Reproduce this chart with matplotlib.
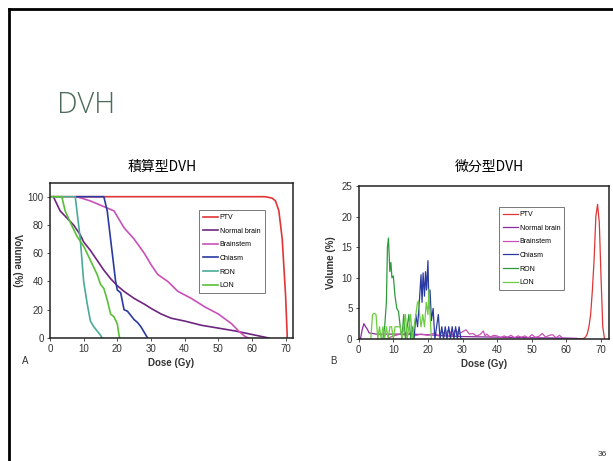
import matplotlib.pyplot as plt
from matplotlib.lines import Line2D

# cumulative DVH (left)
names = ["PTV", "Normal brain", "Brainstem", "Chiasm", "RON", "LON"]
cum_ptv_x = [0, 64, 66, 67, 68, 69, 70, 70.5]
cum_ptv_y = [100, 100, 99, 97, 90, 70, 30, 0]
cum_nb_x = [1, 2, 3, 5, 7, 9, 10, 12, 14, 16, 18, 20, 22, 25, 28, 30, 33, 36, 40, 45, 50, 55, 60, 63, 65]
cum_nb_y = [100, 95, 90, 85, 80, 73, 68, 62, 55, 48, 42, 37, 33, 28, 24, 21, 17, 14, 12, 9, 7, 5, 2.5, 1, 0]
cum_bs_x = [8, 12, 16, 19, 22, 25, 28, 30, 32, 35, 38, 42, 46, 50, 54, 56, 58, 59]
cum_bs_y = [100, 97, 93, 90, 78, 70, 60, 52, 45, 40, 33, 28, 22, 17, 10, 5, 1, 0]
cum_ch_x = [8, 16, 17, 18, 19, 19.5, 20, 21, 22, 23, 24, 25, 26, 27, 28, 29]
cum_ch_y = [100, 100, 90, 70, 50, 40, 34, 32, 20, 19, 16, 13, 11, 8, 4, 0]
cum_ron_x = [0, 7.5, 8, 8.5, 9, 9.5, 10, 11, 12, 13, 14, 15, 15.5]
cum_ron_y = [100, 100, 90, 80, 70, 55, 40, 25, 12, 8, 5, 2, 0]
cum_lon_x = [0, 3.5, 4.5, 6, 8, 10, 12, 14, 15, 16, 17, 18, 19, 20, 20.5, 20.7]
cum_lon_y = [100, 100, 90, 82, 72, 65, 55, 45, 38, 35, 27, 17, 15, 10, 2, 0]

# differential DVH (right)
dif_ptv_x = [64, 65, 65.5, 66, 66.5, 67, 67.5, 68, 68.5, 69, 69.5, 70, 70.5, 71]
dif_ptv_y = [0, 0.1, 0.3, 0.8, 2, 4, 8, 13, 20, 22, 19, 10, 2, 0]
dif_nb_x = [0.5, 1, 1.5, 2, 2.5, 3, 4, 5, 10, 15, 20, 25, 30, 40, 50, 60, 63, 64]
dif_nb_y = [0, 1.5, 2.5, 2, 1.6, 1, 0.9, 0.8, 0.8, 0.8, 0.7, 0.5, 0.4, 0.3, 0.2, 0.15, 0.1, 0]
dif_bs_x = [8, 10, 12, 14, 15, 16, 18, 20, 22, 23, 24, 25, 26, 27, 28, 29, 30, 31, 32, 33, 34, 35, 36, 36.5, 37,
            38, 39, 40, 41, 42, 43, 44, 45, 46, 47, 48, 49, 50, 51, 52, 53, 54, 55, 56, 57, 58, 59, 60]
dif_bs_y = [0, 0.5, 0.8, 0.6, 1, 0.5, 0.8, 0.6, 1, 0.5, 1.2, 0.8, 1.5, 0.6, 1.5, 0.8, 1.2, 1.5, 0.8, 0.9, 0.5, 0.7,
            1.3, 0.5, 0.8, 0.3, 0.6, 0.5, 0.2, 0.5, 0.3, 0.6, 0.2, 0.5, 0.3, 0.5, 0.2, 0.7, 0.3, 0.4, 0.9, 0.3, 0.6,
            0.7, 0.2, 0.6, 0.1, 0]
dif_ch_x = [16, 16.5, 17, 17.5, 18, 18.3, 18.6, 19, 19.3, 19.6, 20, 20.3, 20.6, 21, 21.5, 22, 22.5, 23, 23.5, 24,
            24.5, 25, 25.5, 26, 26.5, 27, 27.5, 28, 28.5, 29, 29.5, 30]
dif_ch_y = [0, 4, 2, 6, 10.5, 6, 10.8, 7, 11, 8, 12.8, 5, 8, 3, 5, 0, 2, 4, 0, 2, 0, 2, 0, 2, 0, 2, 0, 2, 0, 2, 0, 0]
dif_ron_x = [7, 7.5, 8, 8.3, 8.6, 9, 9.3, 9.6, 10, 10.5, 11, 11.5, 12, 12.5, 13, 13.5, 14, 14.5, 15, 15.5, 16]
dif_ron_y = [0, 2, 6, 15, 16.5, 11, 12.5, 10, 10.3, 7, 5, 4.5, 2, 0, 4, 0, 2, 4, 0, 2, 0]
dif_lon_x = [3.5, 4, 4.5, 5, 5.5, 6, 6.5, 7, 7.5, 8, 8.5, 9, 9.5, 10, 10.5, 11, 11.5, 12, 12.5, 13, 13.5, 14, 14.5,
             15, 15.5, 16, 16.5, 17, 17.3, 17.6, 18, 18.5, 19, 19.5, 20, 20.3, 20.6, 21]
dif_lon_y = [0, 4, 4.2, 4, 0, 2, 0, 2, 0, 2, 0, 2, 2, 0, 2, 2, 2, 2, 0, 2, 4, 0, 2, 4, 0, 2, 4, 6, 6.2, 4, 2, 4, 2,
             6, 4, 8.2, 4, 0]

cum_colors = ["#e03535", "#6e2580", "#c850b8", "#2a3aa0", "#4aab98", "#58c038"]
dif_colors = ["#e03535", "#8a2aa0", "#c850b8", "#2a3aa0", "#2e9a3c", "#6ccc40"]

plt.rcParams['font.family'] = ['Liberation Sans', 'DejaVu Sans']
fig = plt.figure(figsize=(6.13, 4.61), dpi=100)

# slide border
fig.add_artist(Line2D([9.3/613, 1.0], [1 - 8.7/461, 1 - 8.7/461], color="black", lw=2))
fig.add_artist(Line2D([9.3/613, 9.3/613], [0, 1 - 8.7/461], color="black", lw=2))

fig.text(57/613, 1 - 105/461, "DVH", fontsize=21, color="#4d6b5b", family=["Open Sans", "DejaVu Sans"],
         fontweight="light", va="center", ha="left")
fig.text(162/613, 1 - 167/461, "積算型DVH", fontsize=10, family=["Noto Sans CJK JP", "DejaVu Sans"], ha="center", va="center")
fig.text(489/613, 1 - 167/461, "微分型DVH", fontsize=10, family=["Noto Sans CJK JP", "DejaVu Sans"], ha="center", va="center")
fig.text(602/613, 1 - 454/461, "36", fontsize=6, color="#333333", ha="center", va="center")
fig.text(22/613, 1 - 361/461, "A", fontsize=7, color="#333333", ha="left", va="center")
fig.text(330/613, 1 - 361/461, "B", fontsize=7, color="#333333", ha="left", va="center")

ax1 = fig.add_axes([50/613, 1 - 338/461, 243/613, 155/461])
ax2 = fig.add_axes([358.7/613, 1 - 339/461, 250.3/613, 153/461])

cum = [(cum_ptv_x, cum_ptv_y), (cum_nb_x, cum_nb_y), (cum_bs_x, cum_bs_y),
       (cum_ch_x, cum_ch_y), (cum_ron_x, cum_ron_y), (cum_lon_x, cum_lon_y)]
dif = [(dif_ptv_x, dif_ptv_y), (dif_nb_x, dif_nb_y), (dif_bs_x, dif_bs_y),
       (dif_ch_x, dif_ch_y), (dif_ron_x, dif_ron_y), (dif_lon_x, dif_lon_y)]

for (x, y), c, n in zip(cum, cum_colors, names):
    ax1.plot(x, y, color=c, lw=1.2, label=n)
for (x, y), c, n in zip(dif, dif_colors, names):
    ax2.plot(x, y, color=c, lw=0.9, label=n)

ax1.set_xlim(0, 72.2)
ax1.set_ylim(0, 109.7)
ax1.set_xticks(range(0, 71, 10))
ax1.set_yticks(range(0, 101, 20))
ax2.set_xlim(0, 72.3)
ax2.set_ylim(0, 25)
ax2.set_xticks(range(0, 71, 10))
ax2.set_yticks(range(0, 26, 5))

for ax in (ax1, ax2):
    for s in ax.spines.values():
        s.set_linewidth(1.1)
        s.set_color("#222222")
    ax.tick_params(labelsize=7, length=2.5, width=0.6, colors="#333333", pad=2)
    ax.set_xlabel("Dose (Gy)", fontsize=7, fontweight="bold", color="#333333", labelpad=3)

ax1.set_ylabel("Volume (%)", fontsize=7, fontweight="bold", color="#333333", rotation=270)
ax1.yaxis.set_label_coords(-0.155, 0.5)
ax2.set_ylabel("Volume (%)", fontsize=7, fontweight="bold", color="#333333", labelpad=4)

leg1 = ax1.legend(loc="upper left", bbox_to_anchor=(0.613, 0.826), fontsize=5, frameon=True, fancybox=False,
                  edgecolor="#555555", handlelength=2.2, labelspacing=0.95, borderpad=0.6, handletextpad=0.2,
                  borderaxespad=0)
leg1.get_frame().set_linewidth(0.7)
leg2 = ax2.legend(loc="upper left", bbox_to_anchor=(0.56, 0.863), fontsize=5, frameon=True, fancybox=False,
                  edgecolor="#555555", handlelength=2.2, labelspacing=0.95, borderpad=0.6, handletextpad=0.2,
                  borderaxespad=0)
leg2.get_frame().set_linewidth(0.7)

fig.savefig("out.png", dpi=100)
